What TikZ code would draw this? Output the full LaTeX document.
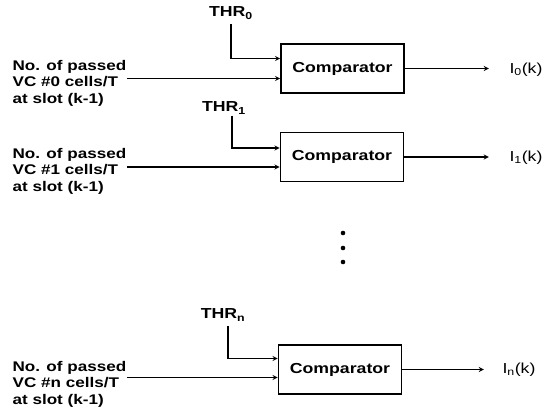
\documentclass[tikz,border=0pt]{standalone}
\usepackage{fontspec}
\setmainfont{Liberation Sans}[FakeStretch=1.22]
\begin{document}
\begin{tikzpicture}[x=1pt, y=-1pt, >=stealth, line width=1.3pt,
    cmpbox/.style={draw, line width=1.6pt, minimum width=123pt, minimum height=49pt,
        inner sep=0pt, font=\fontsize{14.5}{16.5}\selectfont\bfseries},
    inlbl/.style={anchor=west, align=left, inner sep=0pt,
        font=\fontsize{14}{16.5}\selectfont\bfseries},
    thrlbl/.style={inner sep=1pt, font=\fontsize{14.5}{16.5}\selectfont\bfseries},
    outlbl/.style={inner sep=1pt, font=\fontsize{14.5}{16.5}\selectfont}]
    \useasboundingbox (0,0) rectangle (547,414);

    \node[cmpbox] (cmp0) at (342.5,68.5) {Comparator};
    \node[cmpbox] (cmp1) at (342,157) {Comparator};
    \node[cmpbox] (cmpn) at (340,369.5) {Comparator};

    \node[thrlbl] (thr0) at (231,13) {THR\textsubscript{0}};
    \node[thrlbl] (thr1) at (224,108) {THR\textsubscript{1}};
    \node[thrlbl] (thrn) at (223,315) {THR\textsubscript{n}};

    \node[inlbl] (in0) at (12,83) {No. of passed\\VC \#0 cells/T\\at slot (k-1)};
    \node[inlbl] (in1) at (12,171) {No. of passed\\VC \#1 cells/T\\at slot (k-1)};
    \node[inlbl] (inn) at (12,384) {No. of passed\\VC \#n cells/T\\at slot (k-1)};

    \node[outlbl] (out0) at (526,70) {I\textsubscript{0}(k)};
    \node[outlbl] (out1) at (526,158) {I\textsubscript{1}(k)};
    \node[outlbl] (outn) at (519,369.5) {I\textsubscript{n}(k)};

    \coordinate (a0) at ([yshift=10pt]cmp0.west);
    \coordinate (b0) at ([yshift=-10pt]cmp0.west);
    \coordinate (a1) at ([yshift=9pt]cmp1.west);
    \coordinate (b1) at ([yshift=-10pt]cmp1.west);
    \coordinate (an) at ([yshift=11pt]cmpn.west);
    \coordinate (bn) at ([yshift=-8pt]cmpn.west);

    \draw[->] ([yshift=-3pt]thr0.south) |- (a0);
    \draw[->] (in0.east |- b0) -- (b0);
    \draw[->] (cmp0.east) -- ([xshift=-19pt]cmp0.east -| out0.west);

    \draw[->] ([xshift=8pt]thr1.south) |- (a1);
    \draw[->] (in1.east |- b1) -- (b1);
    \draw[->] (cmp1.east) -- ([xshift=-19pt]cmp1.east -| out1.west);

    \draw[->] ([xshift=5pt,yshift=-3pt]thrn.south) |- (an);
    \draw[->] (inn.east |- bn) -- (bn);
    \draw[->] (cmpn.east) -- ([xshift=-17pt]cmpn.east -| outn.west);

    \foreach \y in {233,248,262}
        \fill (343,\y) circle (2.3pt);
\end{tikzpicture}
\end{document}
